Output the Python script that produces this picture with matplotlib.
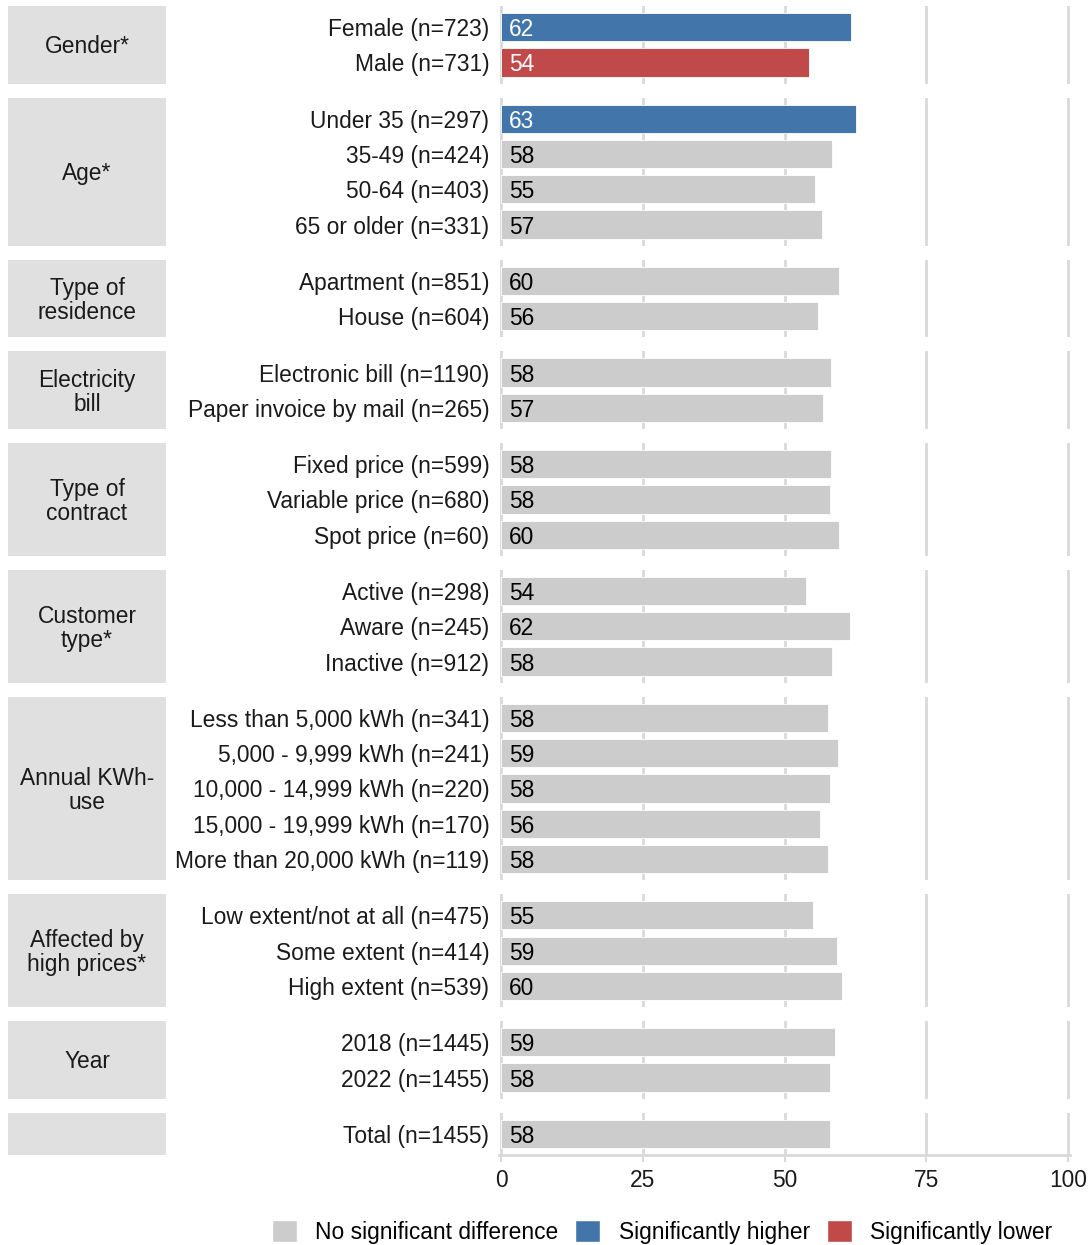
import matplotlib.pyplot as plt
from matplotlib.patches import Rectangle, Patch

plt.rcParams['font.family'] = ['Liberation Sans', 'DejaVu Sans']

group_names = ["Gender*", "Age*", "Type of\nresidence", "Electricity\nbill",
               "Type of\ncontract", "Customer\ntype*", "Annual KWh-\nuse",
               "Affected by\nhigh prices*", "Year", ""]
group_sizes = [2, 4, 2, 2, 3, 3, 5, 3, 2, 1]

row_labels = [
    "Female (n=723)", "Male (n=731)",
    "Under 35 (n=297)", "35-49 (n=424)", "50-64 (n=403)", "65 or older (n=331)",
    "Apartment (n=851)", "House (n=604)",
    "Electronic bill (n=1190)", "Paper invoice by mail (n=265)",
    "Fixed price (n=599)", "Variable price (n=680)", "Spot price (n=60)",
    "Active (n=298)", "Aware (n=245)", "Inactive (n=912)",
    "Less than 5,000 kWh (n=341)", "5,000 - 9,999 kWh (n=241)",
    "10,000 - 14,999 kWh (n=220)", "15,000 - 19,999 kWh (n=170)",
    "More than 20,000 kWh (n=119)",
    "Low extent/not at all (n=475)", "Some extent (n=414)", "High extent (n=539)",
    "2018 (n=1445)", "2022 (n=1455)",
    "Total (n=1455)",
]
row_values = [61.7, 54.3,
              62.6, 58.4, 55.4, 56.6,
              59.6, 55.9,
              58.2, 56.8,
              58.2, 58.0, 59.6,
              53.8, 61.6, 58.4,
              57.6, 59.4, 58.0, 56.3, 57.6,
              55.0, 59.3, 60.1,
              58.9, 58.0,
              58.0]
# 0 = no significant difference, 1 = higher, 2 = lower
row_status = [1, 2,
              1, 0, 0, 0,
              0, 0,
              0, 0,
              0, 0, 0,
              0, 0, 0,
              0, 0, 0, 0, 0,
              0, 0, 0,
              0, 0,
              0]

legend_labels = ["No significant difference", "Significantly higher", "Significantly lower"]
status_colors = ["#cccccc", "#4275aa", "#c04a4a"]
x_ticks = [0, 25, 50, 75, 100]

W, H = 1088, 1245
fig = plt.figure(figsize=(W / 100, H / 100), dpi=100)

top, gap, bottom = 6, 14, 1155
unit = (bottom - top - gap * (len(group_sizes) - 1)) / sum(n + 0.2 for n in group_sizes)
fs = 16.4
grid_col = "#d9d9d9"

y0 = top
start = 0
for gi, (name, n) in enumerate(zip(group_names, group_sizes)):
    h = (n + 0.2) * unit
    ax = fig.add_axes([499 / W, 1 - (y0 + h) / H, 571 / W, h / H])
    labels = row_labels[start:start + n]
    vals = row_values[start:start + n]
    stats = row_status[start:start + n]
    ys = list(range(1, n + 1))
    ax.barh(ys, vals, height=0.8, color=[status_colors[s] for s in stats],
            edgecolor="white", linewidth=0.6, zorder=2)
    for y, v, s in zip(ys, vals, stats):
        ax.text(1.4, y, f"{v:.0f}", ha="left", va="center_baseline", fontsize=fs,
                color="white" if s else "black", zorder=3)
    ax.set_xlim(-0.35, 100.35)
    ax.set_ylim(n + 0.6, 0.4)
    ax.set_yticks(ys)
    ax.set_yticklabels(labels, fontsize=fs, color="#1a1a1a", va="center_baseline")
    ax.tick_params(axis="y", length=0, pad=7)
    ax.set_xticks(x_ticks)
    ax.grid(axis="x", color=grid_col, linewidth=2, zorder=0)
    ax.set_axisbelow(True)
    for sp in ax.spines.values():
        sp.set_visible(False)
    if gi == len(group_sizes) - 1:
        ax.spines["bottom"].set_visible(True)
        ax.spines["bottom"].set_color(grid_col)
        ax.spines["bottom"].set_linewidth(2)
        ax.tick_params(axis="x", length=5, width=1.5, color=grid_col,
                       labelsize=fs, labelcolor="#1a1a1a", pad=5)
    else:
        ax.tick_params(axis="x", length=0, labelbottom=False)

    # strip box on the left
    fig.patches.append(Rectangle((8 / W, 1 - (y0 + h) / H), 158 / W, h / H,
                                 transform=fig.transFigure, facecolor="#e0e0e0",
                                 edgecolor="none"))
    fig.text(87 / W, 1 - (y0 + h / 2 + 2) / H, name, ha="center", va="center",
             fontsize=fs, color="#1a1a1a", linespacing=1.05)

    y0 += h + gap
    start += n

handles = [Patch(facecolor=c, edgecolor="white") for c in status_colors]
fig.legend(handles, legend_labels, loc="center", bbox_to_anchor=(662 / W, 1 - 1232 / H),
           ncol=3, frameon=False, fontsize=fs, handlelength=1.1, handleheight=1.1,
           handletextpad=0.8, columnspacing=0.75)

fig.savefig("out.png", dpi=100)
